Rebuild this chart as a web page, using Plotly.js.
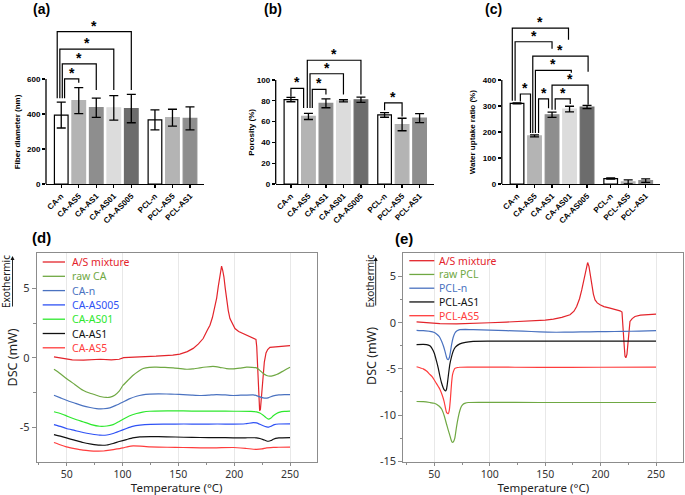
<!DOCTYPE html>
<html><head><meta charset="utf-8">
<script src="https://cdn.plot.ly/plotly-3.0.1.min.js"></script>
<style>html,body{margin:0;padding:0;background:#fff;} #chart{width:685px;height:495px;}</style>
</head><body><div id="chart"></div>
<script>
// ---------------- DATA ----------------
const categories = ['CA-n','CA-AS5','CA-AS1','CA-AS01','CA-AS005','PCL-n','PCL-AS5','PCL-AS1'];
const fiberDiameter    = [394, 476, 436, 435, 431, 366, 379, 375];
const fiberDiameterErr = [74, 74, 55, 70, 81, 57, 48, 66];
const porosity    = [81.2, 65, 77.6, 80, 81, 66.4, 57.2, 63.4];
const porosityErr = [2.1, 3, 4.3, 1, 2.6, 2.2, 6, 4.3];
const waterUptake    = [310, 185, 266, 288, 296, 21, 8, 13];
const waterUptakeErr = [2, 4, 10, 11, 6, 2.5, 8, 7];

// significance brackets: [left index, right index, left foot, right foot, top]
const sigA = [[0.19,1.0,490,578,600],[0.06,2,490,537,686],[-0.08,3,490,537,770],[-0.23,4,490,537,870]];
const sigB = [[0,0.725,84,73,92],[1.22,2,73,86,91],[1.09,3,73,86,106],[0.935,4,73,86,119],[5,6,71,65,78]];
const sigC = [[0.19,0.77,317,196,346],[1.23,1.8,196,291,327],[2.18,3.04,285,308,327],[2.0,4.06,285,305,380],
              [1.05,3.1,196,428,437],[0.9,4.06,196,432,492],[-0.11,2.0,320,520,547],[-0.27,2.94,320,555,599]];

const fiberTicks = [0,200,400,600];
const porosityTicks = [0,20,40,60,80,100];
const waterTicks = [0,100,200,300,400];

// DSC (d)
const dNames = ['A/S mixture','raw CA','CA-n','CA-AS005','CA-AS01','CA-AS1','CA-AS5'];
const dT_AS = [38.6,45,55,65,80,90,97,101,115,130,145,151.3,158,163.3,168,172.2,176,178.3,180.5,182.7,184.3,185.7,187.5,188.7,189.7,190.8,192,193.2,194.7,196.2,198.5,200.7,204,208.1,214,219.5,220.2,221,222,222.8,223.5,224.5,225.5,227,228.5,230,232,240,250];
const dV_AS = [0.07,0.0,-0.15,-0.17,-0.1,-0.14,-0.1,0.02,0.05,0.12,0.2,0.27,0.45,0.68,1.0,1.39,2.0,2.35,2.9,3.67,4.3,5.1,6.1,6.6,6.3,5.83,5.0,4.15,3.4,2.83,2.4,2.11,1.9,1.75,1.55,1.32,0.8,-1.0,-3.0,-3.8,-3.7,-2.6,-1.37,-0.3,0.35,0.6,0.75,0.83,0.88];
const dT_raw = [38.6,44,49.7,57,64.6,71,76.6,81,85.6,89,93,97,100.5,105,109.5,114,118.5,124,130.4,138,145.4,152,157.3,163,169.3,175,181,187,193,199,205,211,216,220,223,226,229,232,235,238,241,244,247,250];
const dV_raw = [-0.82,-1.12,-1.49,-1.9,-2.33,-2.55,-2.69,-2.8,-2.85,-2.83,-2.69,-2.4,-1.97,-1.6,-1.25,-0.98,-0.77,-0.68,-0.67,-0.69,-0.72,-0.78,-0.82,-0.8,-0.72,-0.66,-0.62,-0.68,-0.77,-0.79,-0.74,-0.67,-0.68,-0.72,-0.9,-1.13,-1.27,-1.32,-1.28,-1.2,-1.08,-0.94,-0.8,-0.67];
const dT_n = [38.6,45,49.7,57,64.6,71,76.6,83,88.6,94,100.5,106,112.5,118,124.4,132,139.4,147,154.3,162,169.3,177,184.2,192,199.2,208,217,220,223,226,228,231,235,240,245,250];
const dV_n = [-2.69,-2.9,-3.05,-3.25,-3.45,-3.57,-3.65,-3.66,-3.6,-3.42,-3.17,-2.95,-2.76,-2.66,-2.61,-2.59,-2.6,-2.62,-2.64,-2.68,-2.71,-2.68,-2.64,-2.67,-2.71,-2.68,-2.66,-2.72,-2.81,-2.88,-2.9,-2.86,-2.73,-2.67,-2.65,-2.64];
const dT_005 = [38.6,45,49.7,57,64.6,72,79.6,86,91.6,97,103.5,109,115.5,125,139.4,155,169.3,185,199.2,210,217,220,223,226,229,231,233,236,240,250];
const dV_005 = [-4.8,-4.95,-5.08,-5.22,-5.37,-5.48,-5.56,-5.55,-5.44,-5.28,-5.08,-4.93,-4.84,-4.78,-4.77,-4.76,-4.77,-4.76,-4.77,-4.74,-4.66,-4.68,-4.78,-4.88,-4.96,-4.98,-4.92,-4.8,-4.76,-4.75];
const dT_01 = [38.6,45,49.7,57,64.6,72,79.6,86,91.6,96,100.5,106,112.5,118,124.4,140,154.3,170,184.2,200,215,220,223,226,228.5,230.6,233,235,238,241,245,250];
const dV_01 = [-3.88,-4.02,-4.17,-4.4,-4.6,-4.8,-4.92,-4.9,-4.8,-4.62,-4.41,-4.18,-4.0,-3.9,-3.84,-3.82,-3.82,-3.83,-3.83,-3.84,-3.85,-3.88,-3.97,-4.13,-4.3,-4.41,-4.33,-4.17,-4.0,-3.9,-3.85,-3.83];
const dT_1 = [38.6,45,49.7,57,64.6,72,79.6,86,91.6,97,103.5,109,115.5,125,139.4,155,169.3,185,199.2,210,220,223,226,228.5,230.6,233,235,240,250];
const dV_1 = [-5.52,-5.65,-5.76,-5.92,-6.09,-6.2,-6.28,-6.27,-6.16,-6.02,-5.88,-5.76,-5.68,-5.66,-5.68,-5.71,-5.73,-5.74,-5.75,-5.75,-5.75,-5.8,-5.88,-5.96,-6.0,-5.95,-5.85,-5.76,-5.74];
const dT_5 = [38.6,44,49.7,57,64.6,71,76.6,83,88.6,95,100.5,105,109.5,116,124.4,140,154.3,170,184.2,199.2,211,220,225,229,235,240,250];
const dV_5 = [-6.09,-6.25,-6.4,-6.53,-6.64,-6.69,-6.71,-6.7,-6.64,-6.55,-6.47,-6.38,-6.33,-6.35,-6.4,-6.43,-6.45,-6.47,-6.47,-6.45,-6.52,-6.58,-6.55,-6.47,-6.44,-6.43,-6.42];

// DSC (e)
const eNames = ['A/S mixture','raw PCL','PCL-n','PCL-AS1','PCL-AS5'];
const eT_AS = [34,45,55,70,85,100,115,127.3,140,150,157.4,165,172.4,176,178.4,181,183,184.7,186,187.3,188.3,189.5,190.7,192,193.5,195,197,199.5,203,208.5,213,217.5,219.3,220.5,221.3,222,222.8,223.8,225,226.5,228.5,231,236,243,250];
const eV_AS = [0.1,0.0,-0.1,-0.12,-0.1,0.0,0.07,0.14,0.2,0.28,0.39,0.58,0.86,1.25,1.76,2.6,3.55,4.4,5.16,5.9,6.52,6.1,5.1,3.9,3.1,2.47,2.15,1.94,1.75,1.58,1.45,1.29,1.15,-0.5,-2.5,-3.6,-3.8,-3.4,-2.0,0.14,0.45,0.68,0.82,0.88,0.93];
const eT_raw = [34,40,46,50,52,54.5,56.6,59,61,62.5,64,65.2,66.2,67.2,68.5,70,71.5,73,74.5,76,78,80.7,90,100,145,200,250];
const eV_raw = [-8.53,-8.55,-8.64,-8.72,-8.82,-9.05,-9.35,-10.1,-10.97,-11.6,-12.2,-12.7,-12.95,-12.9,-12.5,-11.3,-10.3,-9.53,-9.05,-8.82,-8.7,-8.64,-8.62,-8.62,-8.64,-8.64,-8.64];
const eT_n = [34,40,46,50,52,54.5,56.6,58.3,59.6,60.7,61.7,62.6,63.5,64.5,65.6,67,68.6,70.5,73,78,85,100,115,130,145,160,175,190,205,220,235,250];
const eV_n = [-0.82,-0.86,-0.93,-1.05,-1.22,-1.5,-2.0,-2.55,-3.08,-3.6,-3.95,-4.0,-3.8,-3.2,-2.37,-1.6,-1.11,-0.88,-0.75,-0.73,-0.75,-0.8,-0.86,-0.92,-0.98,-1.03,-1.02,-0.98,-0.96,-0.94,-0.9,-0.86];
const eT_1 = [34,40,43,46,47.6,50,52,53.5,55,56.5,58,59.2,60.2,61,61.7,62.8,64,65.5,67,69,73,78,85,100,145,200,250];
const eV_1 = [-2.37,-2.35,-2.37,-2.5,-2.72,-3.3,-4.16,-4.9,-5.77,-6.5,-7.03,-7.3,-7.38,-7.2,-6.67,-5.6,-4.52,-3.7,-3.08,-2.65,-2.29,-2.12,-2.02,-2.0,-2.0,-2.0,-2.0];
const eT_5 = [34,40,43,46,48,50,52,55,57,58.7,60,61,62.6,63.5,64.5,65.6,66.5,68.6,71,73,80,100,145,200,250];
const eV_5 = [-4.77,-5.0,-5.23,-5.6,-5.85,-6.2,-6.6,-7.2,-7.8,-8.46,-9.2,-9.71,-9.85,-9.5,-8.3,-6.5,-5.6,-4.95,-4.85,-4.82,-4.8,-4.8,-4.84,-4.82,-4.8];

const dscTempTicks = [50,100,150,200,250];
const dTicks = [-5,0,5];
const eTicks = [-15,-10,-5,0,5];

// ---------------- STYLE / LAYOUT ----------------
const W = 685, H = 495;
const px = v => v / W;
const py = v => 1 - v / H;
const FB = 'Liberation Sans, Arial, sans-serif';
const FD = 'Noto Sans, DejaVu Sans, sans-serif';
const barColors = ['#ffffff','#b4b4b4','#8e8e8e','#dcdcdc','#6c6c6c','#ffffff','#b4b4b4','#8e8e8e'];
const barLine = barColors.map(c => c === '#ffffff' ? '#000000' : c);
const dColors = ['#e3242b','#6fa843','#4a72c0','#2f52f5','#2ee82e','#111111','#ff3c3c'];
const eColors = ['#e3242b','#6fa843','#4a72c0','#111111','#ff3c3c'];

const gapAt = 4.5, gap = 0.35;
const posOf = v => v + (v >= gapAt ? gap : 0);
const xpos = categories.map((c, i) => posOf(i));

function barTrace(vals, errs, n) {
  return {type:'bar', x:xpos, y:vals, xaxis:'x'+n, yaxis:'y'+n, width:0.78,
    marker:{color:barColors, line:{color:barLine, width:1.2}},
    error_y:{type:'data', array:errs, visible:true, color:'#000', thickness:1.3, width:4.5},
    showlegend:false, hoverinfo:'skip'};
}
const traces = [
  barTrace(fiberDiameter, fiberDiameterErr, ''),
  barTrace(porosity, porosityErr, '2'),
  barTrace(waterUptake, waterUptakeErr, '3')
];

const dSeries = [[dT_AS,dV_AS],[dT_raw,dV_raw],[dT_n,dV_n],[dT_005,dV_005],[dT_01,dV_01],[dT_1,dV_1],[dT_5,dV_5]];
const eSeries = [[eT_AS,eV_AS],[eT_raw,eV_raw],[eT_n,eV_n],[eT_1,eV_1],[eT_5,eV_5]];
function lineStyle(color, i) {
  return i === 0 ? {color, width:1.2, shape:'linear'} : {color, width:1.2, shape:'spline', smoothing:0.4};
}
dSeries.forEach((s, i) => traces.push({type:'scatter', mode:'lines', x:s[0], y:s[1], xaxis:'x4', yaxis:'y4',
  line:lineStyle(dColors[i], i), name:dNames[i], showlegend:false, hoverinfo:'skip'}));
eSeries.forEach((s, i) => traces.push({type:'scatter', mode:'lines', x:s[0], y:s[1], xaxis:'x5', yaxis:'y5',
  line:lineStyle(eColors[i], i), name:eNames[i], showlegend:false, hoverinfo:'skip'}));

const tfB = {family:FB, size:8, color:'#000', weight:'bold'};
function barX(l, r, anchor) {
  return {domain:[px(l), px(r)], range:[-0.87, 8.15], anchor, tickmode:'array', tickvals:xpos, ticktext:categories,
    tickangle:-45, tickfont:tfB, showline:true, linecolor:'#000', linewidth:1.3, ticks:'outside', ticklen:3,
    tickwidth:1.2, tickcolor:'#000', showgrid:false, zeroline:false, fixedrange:true};
}
function barY(top, tv, anchor) {
  return {domain:[py(184), py(10)], range:[0, top], anchor, tickmode:'array', tickvals:tv, ticks:'outside', ticklen:3,
    tickwidth:1.2, tickcolor:'#000', tickfont:tfB, showline:false, showgrid:false, zeroline:false, fixedrange:true};
}
const tfD = {family:FD, size:11, color:'#333'};
const tfDx = {family:FD, size:10.5, color:'#333'};
function dscX(l, r, range, anchor) {
  return {domain:[px(l), px(r)], range, anchor, tickmode:'array', tickvals:dscTempTicks, ticks:'outside', ticklen:3,
    tickcolor:'#8c8c8c', tickwidth:1, showline:true, mirror:true, linecolor:'#8c8c8c', linewidth:1,
    showgrid:true, gridcolor:'#e8e8e8', gridwidth:1, zeroline:false, tickfont:tfDx,
    title:{text:'Temperature (°C)', font:{family:FD, size:11.5, color:'#222'}, standoff:0},
    automargin:false,
    minor:{tickmode:'array', tickvals:[25,75,125,175,225], ticks:'outside', ticklen:2, tickcolor:'#8c8c8c', showgrid:false},
    fixedrange:true};
}
function dscY(t, b, range, tv, minorv, anchor) {
  return {domain:[py(b), py(t)], range, anchor, tickmode:'array', tickvals:tv, ticktext:tv.map(v => String(v)),
    ticks:'outside', ticklen:4, tickcolor:'#8c8c8c', tickwidth:1, showline:true, mirror:true, linecolor:'#8c8c8c',
    linewidth:1, showgrid:false, zeroline:false, tickfont:tfD,
    minor:{tickmode:'array', tickvals:minorv, ticks:'outside', ticklen:2.5, tickcolor:'#8c8c8c', showgrid:false},
    fixedrange:true};
}

const layout = {
  width:W, height:H, margin:{l:0, r:0, t:0, b:0}, paper_bgcolor:'#fff', plot_bgcolor:'rgba(0,0,0,0)',
  showlegend:false,
  xaxis: barX(46, 204, 'y'), yaxis: barY(994, fiberTicks, 'x'),
  xaxis2: barX(275.7, 433.6, 'y2'), yaxis2: barY(167.3, porosityTicks, 'x2'),
  xaxis3: barX(501.8, 659.7, 'y3'), yaxis3: barY(669, waterTicks, 'x3'),
  xaxis4: dscX(36.7, 316.7, [23.13, 273.9], 'y4'),
  yaxis4: dscY(253.3, 461.7, [-7.47, 7.52], dTicks, [-2.5, 2.5], 'x4'),
  xaxis5: dscX(403.3, 683.3, [22.03, 274.6], 'y5'),
  yaxis5: dscY(253.3, 461.5, [-15.03, 7.52], eTicks, [-12.5,-7.5,-2.5,2.5], 'x5'),
  shapes: [], annotations: []
};

// y axis lines of the bar charts (stop at the last tick)
[['',46,600],['2',275.7,100],['3',501.8,400]].forEach(a => {
  layout.shapes.push({type:'line', xref:'paper', yref:'y'+a[0], x0:px(a[1]), x1:px(a[1]), y0:0, y1:a[2],
    line:{color:'#000', width:1.3}});
});

// significance brackets and stars
function addSig(list, n) {
  list.forEach(b => {
    const xl = posOf(b[0]), xr = posOf(b[1]);
    layout.shapes.push({type:'path', xref:'x'+n, yref:'y'+n,
      path:`M${xl},${b[2]} L${xl},${b[4]} L${xr},${b[4]} L${xr},${b[3]}`,
      line:{color:'#000', width:1.2}});
    layout.annotations.push({xref:'x'+n, yref:'y'+n, x:(xl+xr)/2, y:b[4], text:'*', showarrow:false,
      xanchor:'center', yanchor:'bottom', yshift:-4, font:{family:FB, size:14, color:'#000', weight:'bold'}});
  });
}
addSig(sigA, ''); addSig(sigB, '2'); addSig(sigC, '3');

function txt(x, y, text, font, extra) {
  layout.annotations.push(Object.assign({xref:'paper', yref:'paper', x:px(x), y:py(y), text, showarrow:false,
    xanchor:'center', yanchor:'middle', font}, extra || {}));
}
// panel labels
const fLab = {family:FB, size:14, color:'#000', weight:'bold'};
txt(41, 9, '(a)', fLab); txt(273, 9, '(b)', fLab); txt(493, 9, '(c)', fLab);
txt(41, 237, '(d)', {family:FB, size:15, color:'#000', weight:'bold'});
txt(404, 238, '(e)', {family:FB, size:15, color:'#000', weight:'bold'});
// bar y titles
txt(18.3, 132, 'Fiber diameter (nm)', tfB, {textangle:-90});
txt(251.7, 132, 'Porosity (%)', tfB, {textangle:-90});
txt(473.3, 132, 'Water uptake ratio (%)', tfB, {textangle:-90});
// DSC y titles
const fT = {family:FD, size:12.5, color:'#222'};
txt(12, 357.5, 'DSC (mW)', fT, {textangle:-90});
txt(371, 356, 'DSC (mW)', fT, {textangle:-90});
const fE = {family:FD, size:10, color:'#222'};
txt(6, 282, 'Exothermic', fE, {textangle:-90});
txt(369.5, 281, 'Exothermic', fE, {textangle:-90});
[[12.5, 256, 308], [375.7, 257, 307]].forEach(a => {
  layout.annotations.push({xref:'paper', yref:'paper', x:px(a[0]), y:py(a[1]), ax:0, ay:a[2]-a[1],
    text:'', showarrow:true, arrowhead:2, arrowsize:0.9, arrowwidth:0.9, arrowcolor:'#111', standoff:0, startstandoff:0});
});
// legends
function addLegend(names, colors, y0, step, lx0, lx1, tx) {
  names.forEach((nm, i) => {
    const y = y0 + i * step;
    layout.shapes.push({type:'line', xref:'paper', yref:'paper', x0:px(lx0), x1:px(lx1), y0:py(y), y1:py(y),
      line:{color:colors[i], width:1.3}});
    txt(tx, y, nm, {family:FD, size:10.5, color:colors[i]}, {xanchor:'left'});
  });
}
addLegend(dNames, dColors, 262, 14.3, 42.7, 65, 69.5);
addLegend(eNames, eColors, 260.7, 13.75, 409.3, 434.3, 436.5);

Plotly.newPlot('chart', traces, layout, {staticPlot:true, displayModeBar:false});
</script></body></html>
